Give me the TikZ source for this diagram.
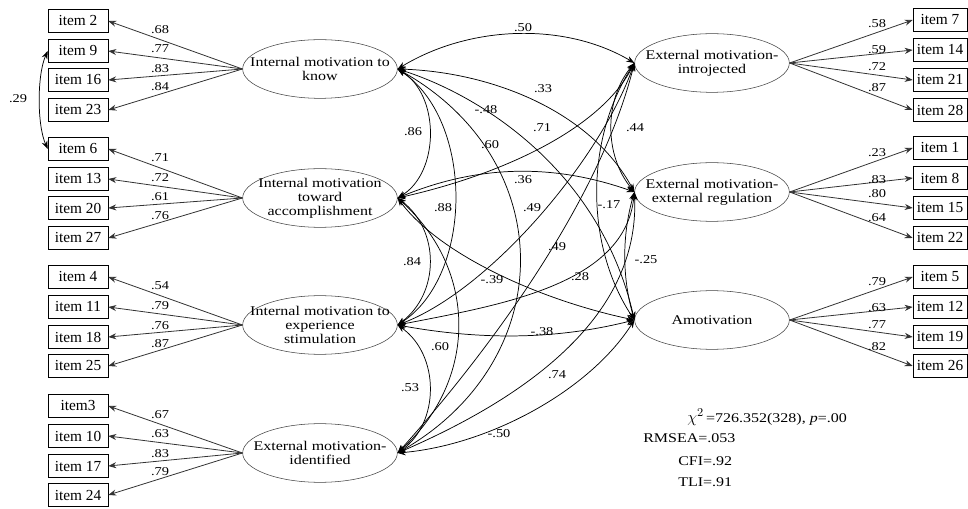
\documentclass[tikz,border=0pt]{standalone}
\usepackage{fontspec}
\setmainfont{Liberation Serif}
\newfontfamily\latfont[FakeStretch=1.2]{Liberation Serif}
\usetikzlibrary{shapes.geometric,arrows.meta}
\tikzset{
  itembox/.style={draw, rectangle, minimum width=45pt, minimum height=17pt, inner sep=0pt, font=\fontsize{11.5}{11.5}\selectfont},
  ritembox/.style={itembox, minimum width=40.5pt},
  lat/.style={draw=black!75, ellipse, minimum width=116pt, minimum height=44pt, inner sep=0pt},
  lattext/.style={align=center, inner sep=0pt, font=\latfont\fontsize{10}{10.5}\selectfont},
  load/.style={-{Stealth[length=6pt,width=4.5pt]}, draw=black!80, line width=0.6pt},
  cor/.style={{Stealth[length=6pt,width=4.5pt]}-{Stealth[length=6pt,width=4.5pt]}, line width=0.55pt},
  coef/.style={font=\latfont\fontsize{9}{9}\selectfont, inner sep=0.5pt},
  stat/.style={font=\latfont\fontsize{10}{10}\selectfont, inner sep=0pt, anchor=west},
}
\begin{document}
\begin{tikzpicture}[x=0.75pt, y=-0.75pt]
\path[use as bounding box] (0,0) rectangle (968,509);
\clip (0,0) rectangle (968,509);
% latent factors
\node[lat] (L1) at (320,69) {};
\node[lattext] (L1t) at (L1) {Internal motivation to\\know};
\node[lat] (L2) at (320,198) {};
\node[lattext] (L2t) at (L2) {Internal motivation\\toward\\accomplishment};
\node[lat] (L3) at (320,325) {};
\node[lattext] (L3t) at (L3) {Internal motivation to\\experience\\stimulation};
\node[lat] (L4) at (320,453) {};
\node[lattext] (L4t) at (L4) {External motivation-\\identified};
\node[lat] (R1) at (712,63) {};
\node[lattext] (R1t) at (R1) {External motivation-\\introjected};
\node[lat] (R2) at (712,192) {};
\node[lattext] (R2t) at (R2) {External motivation-\\external regulation};
\node[lat] (R3) at (712,320) {};
\node[lattext] (R3t) at (R3) {Amotivation};
% left items
\foreach \n/\y in {2/21, 9/51, 16/80, 23/110, 6/149, 13/179, 20/208, 27/238, 4/277, 11/307, 18/337, 25/366, 10/436, 17/466, 24/495}
  \node[itembox] (i\n) at (78,\y) {item \n};
\node[itembox] (i3) at (78,406) {item3};
% right items
\foreach \n/\y in {7/20, 14/50, 21/80, 28/110, 1/148, 8/178, 15/208, 22/238, 5/277, 12/307, 19/337, 26/366}
  \node[ritembox] (i\n) at (940,\y) {item \n};
% loadings
\foreach \n in {2,9,16,23} \draw[load] (L1.west) -- (i\n.east);
\foreach \n in {6,13,20,27} \draw[load] (L2.west) -- (i\n.east);
\foreach \n in {4,11,18,25} \draw[load] (L3.west) -- (i\n.east);
\foreach \n in {3,10,17,24} \draw[load] (L4.west) -- (i\n.east);
\foreach \n in {7,14,21,28} \draw[load] (R1.east) -- (i\n.west);
\foreach \n in {1,8,15,22} \draw[load] (R2.east) -- (i\n.west);
\foreach \n in {5,12,19,26} \draw[load] (R3.east) -- (i\n.west);
% loading labels
\foreach \v/\y [count=\k] in {.68/30,.77/49,.83/69,.84/87,.71/158,.72/178,.61/197,.76/216,.54/286,.79/306,.76/326,.87/344,.67/415,.63/434,.83/454,.79/472}
  \node[coef] (ll\k) at (160,\y) {\v};
\foreach \v/\y [count=\k] in {.58/24,.59/50,.72/67,.87/88,.23/153,.83/180,.80/194,.64/218,.79/282,.63/308,.77/325,.82/347}
  \node[coef] (rl\k) at (877,\y) {\v};
% residual correlation
\draw[cor] (i9.west) .. controls (37,75) and (37,125) .. (i6.west);
\node[coef] (c29) at (18,99) {.29};
% factor correlations
\draw[cor] (L1.east) .. controls (470,25) and (565,22) .. (R1.west);
\draw[cor] (L1.east) .. controls (490,72) and (590,110) .. (R2.west);
\draw[cor] (L1.east) .. controls (480,95) and (600,170) .. (R3.west);
\draw[cor] (L1.east) .. controls (440,95) and (440,172) .. (L2.east);
\draw[cor] (L1.east) .. controls (474,120) and (474,275) .. (L3.east);
\draw[cor] (L1.east) .. controls (560,160) and (560,360) .. (L4.east);
\draw[cor] (L2.east) .. controls (440,230) and (440,293) .. (L3.east);
\draw[cor] (L2.east) .. controls (478,270) and (478,380) .. (L4.east);
\draw[cor] (L3.east) .. controls (440,355) and (440,423) .. (L4.east);
\draw[cor] (L2.east) .. controls (500,175) and (600,130) .. (R1.west);
\draw[cor] (L2.east) .. controls (480,164) and (555,164) .. (R2.west);
\draw[cor] (L2.east) .. controls (440,255) and (540,300) .. (R3.west);
\draw[cor] (L3.east) .. controls (490,290) and (600,160) .. (R1.west);
\draw[cor] (L3.east) .. controls (500,305) and (625,285) .. (R2.west);
\draw[cor] (L3.east) .. controls (480,340) and (555,340) .. (R3.west);
\draw[cor] (L4.east) .. controls (490,350) and (600,200) .. (R1.west);
\draw[cor] (L4.east) .. controls (520,400) and (640,320) .. (R2.west);
\draw[cor] (L4.east) .. controls (490,445) and (590,390) .. (R3.west);
\draw[cor] (R1.west) .. controls (604,100) and (604,155) .. (R2.west);
\draw[cor] (R1.west) .. controls (585,140) and (585,245) .. (R3.west);
\draw[cor] (R2.west) .. controls (622,235) and (622,277) .. (R3.west);
% correlation labels
\foreach \v/\x/\y [count=\k] in {.50/523/28, .33/543/89, -.48/486/110, .71/542/128, .60/490/145, .86/413/132, .88/443/208, .36/523/180, .49/532/208, .49/557/247, .44/635/128, -.17/609/205, -.25/646/260, .84/412/262, -.39/492/280, .28/580/277, .60/440/347, -.38/542/332, .53/410/388, .74/557/375, -.50/499/434}
  \node[coef] (cl\k) at (\x,\y) {\v};
% fit statistics
\node[stat] (chi) at (687,417) {{\fontsize{13}{13}\selectfont$\chi^{2}$}\,=726.352(328), \textit{p}=.00};
\node[stat] (rmsea) at (643,438) {RMSEA=.053};
\node[stat] (cfi) at (678,461) {CFI=.92};
\node[stat] (tli) at (678,482) {TLI=.91};
\end{tikzpicture}
\end{document}
